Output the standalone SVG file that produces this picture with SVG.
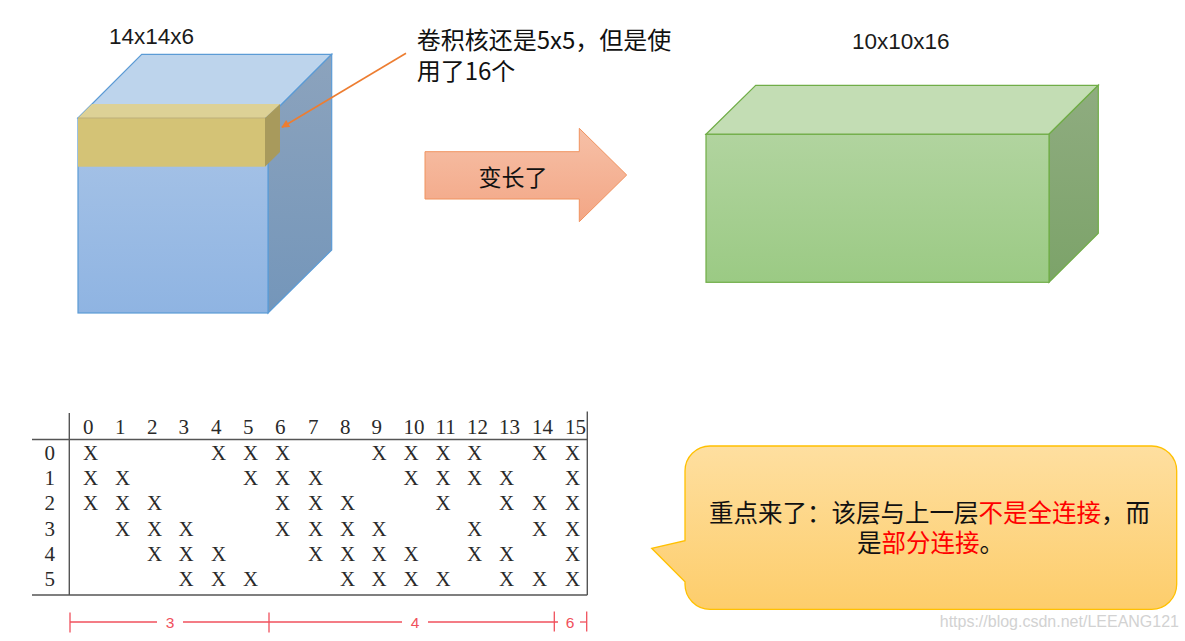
<svg xmlns="http://www.w3.org/2000/svg" width="1185" height="641" viewBox="0 0 1185 641">
<defs>
<linearGradient id="gBlueFront" x1="0" y1="0" x2="0" y2="1"><stop offset="0" stop-color="#A8C4E7"/><stop offset="1" stop-color="#8FB4E2"/></linearGradient>
<linearGradient id="gBlueSide" x1="0" y1="0" x2="0" y2="1"><stop offset="0" stop-color="#8CA3BD"/><stop offset="1" stop-color="#7496BA"/></linearGradient>
<linearGradient id="gGreenFront" x1="0" y1="0" x2="0" y2="1"><stop offset="0" stop-color="#B1D49F"/><stop offset="1" stop-color="#9BCA84"/></linearGradient>
<linearGradient id="gGreenSide" x1="0" y1="0" x2="0" y2="1"><stop offset="0" stop-color="#8FAC80"/><stop offset="1" stop-color="#7CA369"/></linearGradient>
<linearGradient id="gArrow" x1="0" y1="0" x2="0" y2="1"><stop offset="0" stop-color="#F6C0A7"/><stop offset="1" stop-color="#F3A685"/></linearGradient>
<linearGradient id="gBubble" x1="0" y1="0" x2="0" y2="1"><stop offset="0" stop-color="#FEDFA0"/><stop offset="1" stop-color="#FDCD6B"/></linearGradient>
<marker id="mOrange" viewBox="0 0 10 10" refX="9" refY="5" markerWidth="10" markerHeight="8" markerUnits="userSpaceOnUse" orient="auto">
<path d="M0,0 L10,5 L0,10 z" fill="#ED7D31"/>
</marker>
<style>
.lbl{font-family:"Liberation Sans","Noto Sans",sans-serif;font-size:22.5px;fill:#1a1a1a}
.cjk{font-family:"Noto Sans CJK SC","Noto Sans",sans-serif;fill:#111}
.tb{font-family:"Liberation Serif","DejaVu Serif",serif;font-size:21px;fill:#2a2a2a}
.tl{stroke:#555;stroke-width:1.4;fill:none}
.red{stroke:#F0505C;stroke-width:1.3;fill:none}
.rt{font-family:"Liberation Sans","Noto Sans",sans-serif;font-size:15.5px;fill:#F0505C;text-anchor:middle}
.hl{fill:#FF0000}
.bt{font-size:24.5px}
</style>
</defs>

<g id="cube-input">
<polygon points="78,118 141.7,54.3 331.7,54.3 268,118" fill="#BDD4EC" stroke="#5B9BD5" stroke-width="1.2"/>
<polygon points="268,118 331.7,54.3 331.7,250 268,313" fill="url(#gBlueSide)" stroke="#5B9BD5" stroke-width="1.2"/>
<rect x="78" y="118" width="190" height="195" fill="url(#gBlueFront)" stroke="#5B9BD5" stroke-width="1.2"/>
<text class="lbl" x="109" y="44">14x14x6</text>
</g>

<g id="kernel-slab">
<polygon points="78,118 92,104 280,104 265,118" fill="#DDD196"/>
<polygon points="265,118 280,104 280,152 265,166.7" fill="#A89A5C"/>
<rect x="78" y="118" width="187" height="48.7" fill="#D4C376"/>
<line x1="78" y1="118" x2="265" y2="118" stroke="#BDB07A" stroke-width="1.2"/>
</g>

<g id="note-kernel">
<text class="cjk" font-size="24" x="416.7" y="49">卷积核还是5x5，但是使</text>
<text class="cjk" font-size="24" x="416.7" y="79.5">用了16个</text>
</g>

<g id="arrow-longer">
<polygon points="425,151.7 579.3,151.7 579.3,128.3 626.7,175 579.3,221.7 579.3,199 425,199" fill="url(#gArrow)" stroke="#F0935F" stroke-width="1"/>
<text class="cjk" font-size="23" x="513" y="186" text-anchor="middle">变长了</text>
</g>

<g id="cube-output">
<polygon points="706,134.3 755.7,85.3 1098.3,85.3 1049,134.3" fill="#C3DDB4" stroke="#70AD47" stroke-width="1.2"/>
<polygon points="1049,134.3 1098.3,85.3 1098.3,233.3 1049,282.3" fill="url(#gGreenSide)" stroke="#70AD47" stroke-width="1.2"/>
<rect x="706" y="134.3" width="343" height="148" fill="url(#gGreenFront)" stroke="#70AD47" stroke-width="1.2"/>
<text class="lbl" x="852" y="49">10x10x16</text>
</g>

<g id="connection-table">
<line class="tl" x1="69.3" y1="413" x2="69.3" y2="595"/>
<line class="tl" x1="587.3" y1="411.5" x2="587.3" y2="595"/>
<line class="tl" x1="32" y1="439.5" x2="587.3" y2="439.5"/>
<line class="tl" x1="32" y1="595" x2="587.3" y2="595"/>
<g class="tb">
<text x="83" y="434">0</text><text x="115" y="434">1</text><text x="147" y="434">2</text><text x="178.5" y="434">3</text>
<text x="211" y="434">4</text><text x="243" y="434">5</text><text x="275" y="434">6</text><text x="308" y="434">7</text>
<text x="340" y="434">8</text><text x="371.5" y="434">9</text><text x="403.5" y="434">10</text><text x="435.5" y="434">11</text>
<text x="467" y="434">12</text><text x="499" y="434">13</text><text x="532" y="434">14</text><text x="565" y="434">15</text>
<text x="44.5" y="460">0</text><text x="44.5" y="485">1</text><text x="44.5" y="510">2</text>
<text x="44.5" y="535.5">3</text><text x="44.5" y="560.5">4</text><text x="44.5" y="585.5">5</text>
<text y="460" x="83 211 243 275 371.5 403.5 435.5 467 532 565">XXXXXXXXXX</text>
<text y="485" x="83 115 243 275 308 403.5 435.5 467 499 565">XXXXXXXXXX</text>
<text y="510" x="83 115 147 275 308 340 435.5 499 532 565">XXXXXXXXXX</text>
<text y="535.5" x="115 147 178.5 275 308 340 371.5 467 532 565">XXXXXXXXXX</text>
<text y="560.5" x="147 178.5 211 308 340 371.5 403.5 467 499 565">XXXXXXXXXX</text>
<text y="585.5" x="178.5 211 243 340 371.5 403.5 435.5 499 532 565">XXXXXXXXXX</text>
</g>
</g>

<g id="scale">
<line class="red" x1="70" y1="622" x2="157" y2="622"/>
<line class="red" x1="183" y1="622" x2="402" y2="622"/>
<line class="red" x1="428" y1="622" x2="558" y2="622"/>
<line class="red" x1="580" y1="622" x2="586.7" y2="622"/>
<line class="red" x1="70" y1="612.5" x2="70" y2="632.5"/>
<line class="red" x1="269" y1="612.5" x2="269" y2="632.5"/>
<line class="red" x1="554.3" y1="611.5" x2="554.3" y2="631.5"/>
<line class="red" x1="586.7" y1="611.5" x2="586.7" y2="631.5"/>
<text class="rt" x="170" y="627.8">3</text>
<text class="rt" x="415" y="627.8">4</text>
<text class="rt" x="570" y="627.8">6</text>
</g>

<g id="callout-note">
<path d="M710,446 H1151.7 A25,25 0 0 1 1176.7,471 V584.3 A25,25 0 0 1 1151.7,609.3 H710 A25,25 0 0 1 685,584.3 V581.7 L651.7,548.3 L685,540.7 V471 A25,25 0 0 1 710,446 Z" fill="url(#gBubble)" stroke="#FFC000" stroke-width="1.3"/>
<text class="cjk bt" x="709" y="521.5">重点来了：该层与上一层</text>
<text class="cjk bt hl" x="978.5" y="521.5">不是全连接</text>
<text class="cjk bt" x="1101" y="521.5">，而</text>
<text class="cjk bt" x="857" y="551.5">是</text>
<text class="cjk bt hl" x="881.5" y="551.5">部分连接</text>
<text class="cjk bt" x="979.5" y="551.5">。</text>
</g>

<g id="connectors">
<line x1="406" y1="53.3" x2="282" y2="127.2" stroke="#ED7D31" stroke-width="1.6" marker-end="url(#mOrange)"/>
</g>

<text x="1179" y="627" font-family="Liberation Sans, sans-serif" font-size="16" fill="#D2D2D2" text-anchor="end">https://blog.csdn.net/LEEANG121</text>
</svg>
